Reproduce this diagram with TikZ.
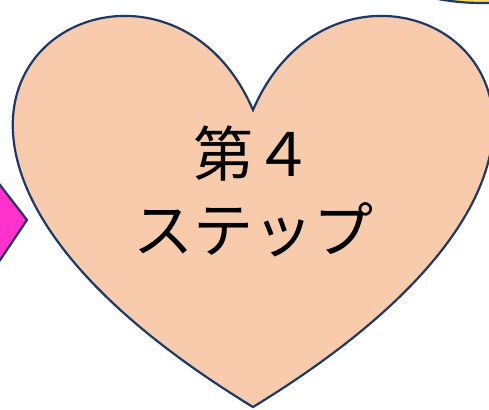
\documentclass[tikz,border=0pt]{standalone}
\usepackage{fontspec}
\newfontfamily\cjk{Noto Sans CJK JP}
\definecolor{navy}{HTML}{203864}
\definecolor{peach}{HTML}{F8CBAD}
\definecolor{pinkish}{HTML}{FF33CC}
\definecolor{gold}{HTML}{FFD966}
\begin{document}
\begin{tikzpicture}[x=1pt,y=-1pt,
  shapeline/.style={draw=navy,line width=2.2pt,line join=miter},
  label/.style={inner sep=0pt,anchor=base,font=\cjk\fontsize{60pt}{72pt}\selectfont,text=black}]
\useasboundingbox (0,0) rectangle (489,409);
\clip (0,0) rectangle (489,409);
% partial neighbour shapes
\draw[shapeline,fill=pinkish] (-10,172) -- (27,220) -- (-10,275);
\draw[shapeline,fill=gold] (482,-240) circle (243pt);
% heart
\draw[shapeline,fill=peach] (253,110) .. controls (352.4,-121) and (739.9,110) .. (253,407)
  .. controls (-233.9,110) and (153.6,-121) .. (253,110) -- cycle;
\node[label] (l1) at (253,176) {第４};
\node[label] (l2) at (253,252) {ステップ};
\end{tikzpicture}
\end{document}
